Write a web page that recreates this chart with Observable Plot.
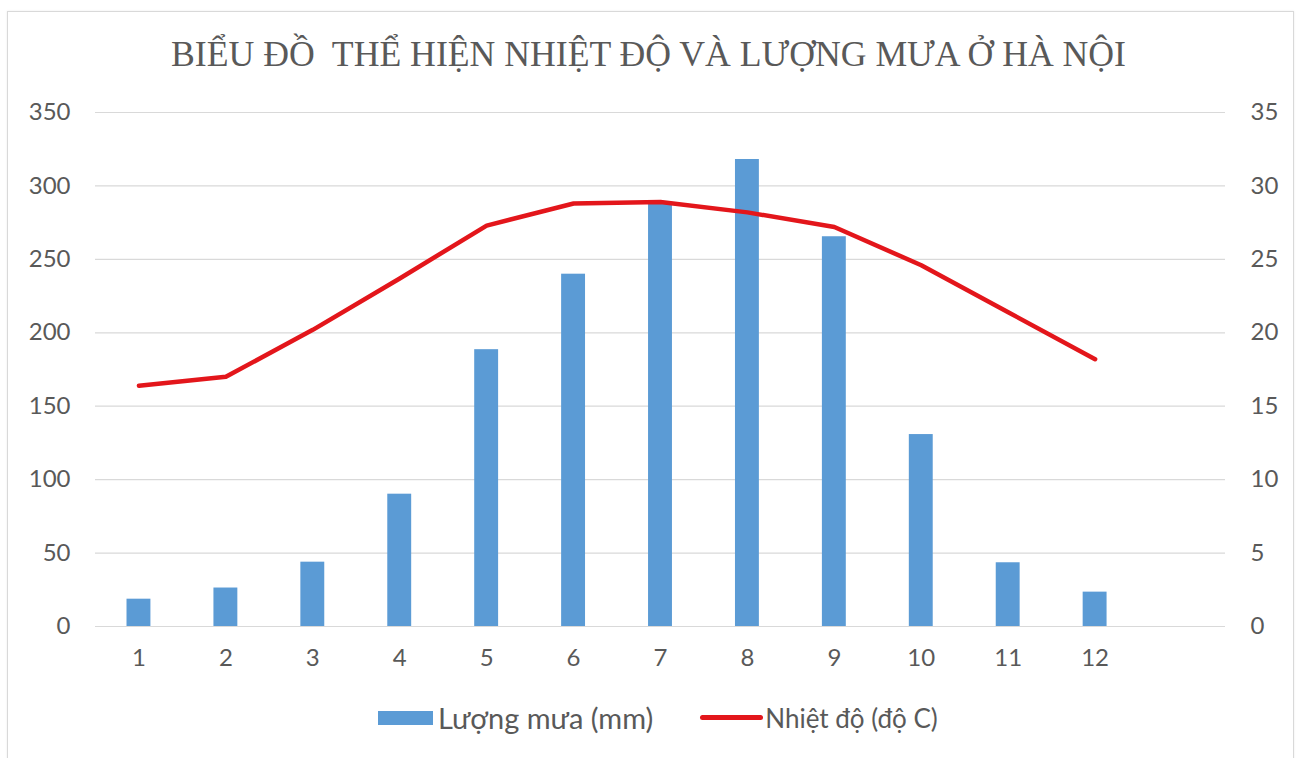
<!DOCTYPE html>
<html>
<head>
<meta charset="utf-8">
<script src="https://cdn.jsdelivr.net/npm/d3@7"></script>
<script src="https://cdn.jsdelivr.net/npm/@observablehq/plot@0.6"></script>
<style>
  html, body { margin: 0; padding: 0; background: #fff; }
  body { width: 1297px; height: 758px; overflow: hidden; position: relative; }
  #chart { position: absolute; left: 0; top: 0; }
  #frame { position: absolute; left: 7px; top: 11px; width: 1287px; height: 800px; border: 1px solid #d9d9d9; box-sizing: border-box; pointer-events: none; box-shadow: 0 0 2px rgba(0,0,0,0.08); }
  #title { position: absolute; top: 35px; left: 0; width: 1297px; text-align: center; font-family: "Liberation Serif", serif; font-size: 35px; color: #595959; white-space: pre; }
  #title span { display: inline-block; transform-origin: center; }
  #legend { position: absolute; top: 700px; left: 378px; display: flex; align-items: center; font-family: Lato, sans-serif; font-size: 29px; color: #595959; white-space: nowrap; }
  .sw { display: inline-block; }
</style>
</head>
<body>
<div id="chart"></div>
<div id="title"><span id="titletext"></span></div>
<div id="legend"></div>
<div id="frame"></div>
<script>
const months = ["1","2","3","4","5","6","7","8","9","10","11","12"];
const rain = [18.6, 26.2, 43.8, 90.1, 188.5, 239.9, 288.2, 318.0, 265.4, 130.7, 43.4, 23.4];
const temp = [16.4, 17.0, 20.2, 23.7, 27.3, 28.8, 28.9, 28.2, 27.2, 24.6, 21.4, 18.2];
const xDomain = [...months, ""];
const leftTicks = [0, 50, 100, 150, 200, 250, 300, 350];
const rightTickLabels = ["0","5","10","15","20","25","30","35"];
const seriesNames = ["Lượng mưa (mm)", "Nhiệt độ (độ C)"];
const titleText = "BIỂU ĐỒ  THỂ HIỆN NHIỆT ĐỘ VÀ LƯỢNG MƯA Ở HÀ NỘI";

const rainColor = "#5b9bd5";
const tempColor = "#e3161b";
const tempToLeft = 10; // 35 °C on the right axis aligns with 350 mm on the left

const data = months.map((m, i) => ({month: m, rain: rain[i], temp: temp[i]}));

const chart = Plot.plot({
  width: 1297,
  height: 758,
  marginTop: 112,
  marginBottom: 132,
  marginLeft: 95,
  marginRight: 72,
  style: {fontFamily: "Lato, sans-serif", fontSize: "24px", color: "#595959", background: "transparent", overflow: "visible"},
  x: {type: "band", domain: xDomain, paddingInner: 0.725, paddingOuter: 0.3625, round: false, align: 0.5},
  y: {domain: [0, 350]},
  marks: [
    Plot.gridY(leftTicks, {stroke: "#d9d9d9", strokeOpacity: 1, strokeWidth: 1.2}),
    Plot.barY(data, {x: "month", y: "rain", fill: rainColor}),
    Plot.lineY(data, {x: "month", y: d => d.temp * tempToLeft, stroke: tempColor, strokeWidth: 4.5, strokeLinejoin: "round", strokeLinecap: "round"}),
    Plot.axisY(leftTicks, {anchor: "left", tickSize: 0, tickPadding: 25, fill: "#595959", label: null}),
    Plot.axisY(leftTicks, {anchor: "right", tickSize: 0, tickPadding: 25, fill: "#595959", label: null,
      textAnchor: "start", tickFormat: (d, i) => rightTickLabels[i]}),
    Plot.axisX(xDomain, {tickSize: 0, tickPadding: 22, fill: "#595959", label: null})
  ]
});
document.getElementById("chart").appendChild(chart);

// title: fit to its width in the reference
const tt = document.getElementById("titletext");
tt.textContent = titleText;
const w = tt.getBoundingClientRect().width;
tt.style.transform = `scaleX(${955 / w})`;

// legend
const legend = document.getElementById("legend");
legend.innerHTML = `
  <span class="sw" style="width:55px;height:14px;background:${rainColor};margin-right:5px"></span>
  <span>${seriesNames[0]}</span>
  <span class="sw" style="width:63px;height:5px;border-radius:3px;background:${tempColor};margin-left:47px;margin-right:2px"></span>
  <span style="font-size:26px">${seriesNames[1]}</span>`;
</script>
</body>
</html>
